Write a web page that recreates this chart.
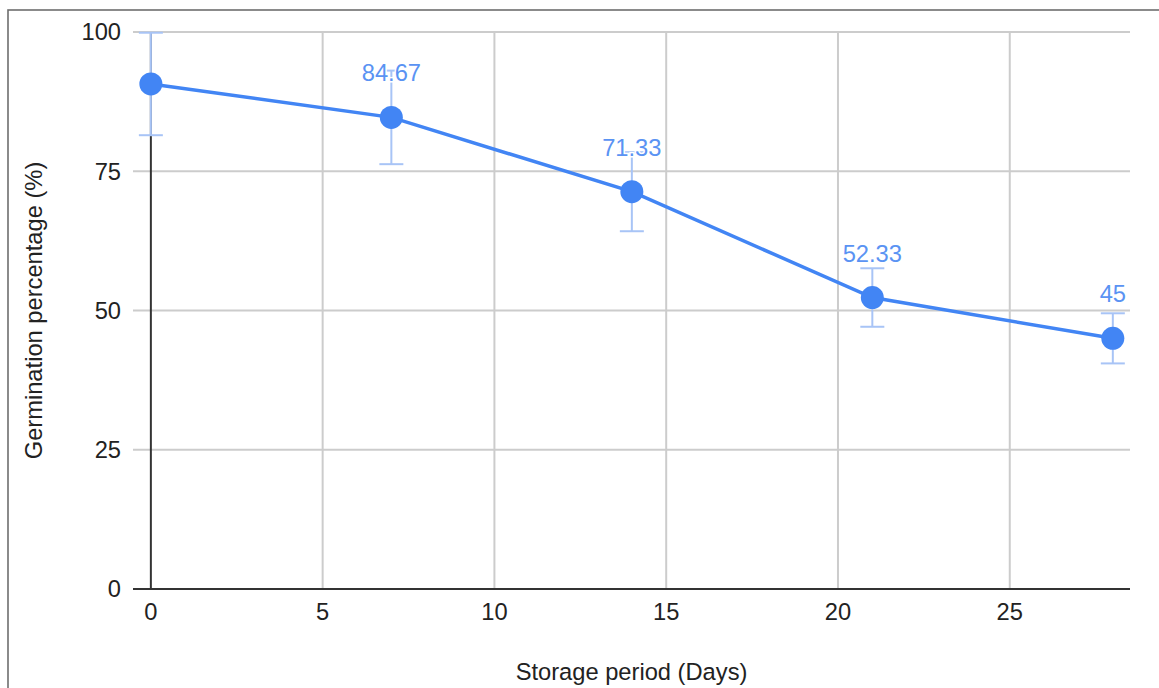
<!DOCTYPE html>
<html>
<head>
<meta charset="utf-8">
<script src="https://cdn.jsdelivr.net/npm/d3@7"></script>
<style>
  html, body { margin: 0; padding: 0; background: #fff; }
  text { font-family: "Liberation Sans", Arial, sans-serif; }
</style>
</head>
<body>
<div id="chart-container"></div>
<script>
"use strict";

// storage period (days) and mean germination %
var days = [0, 7, 14, 21, 28];
var germination = [90.67, 84.67, 71.33, 52.33, 45];
// error bar half-widths
var errors = [9.2, 8.4, 7.1, 5.25, 4.5];
// point labels (first one not shown on the original)
var pointLabels = [null, "84.67", "71.33", "52.33", "45"];

var xTicks = [0, 5, 10, 15, 20, 25];
var yTicks = [0, 25, 50, 75, 100];

var width = 1159,
  height = 688;

var blue = "#4285f4";
var fontSize = "23.7px";

var svg = d3
  .select("#chart-container")
  .append("svg")
  .attr("width", width)
  .attr("height", height);

// frame
svg
  .append("rect")
  .attr("x", 8)
  .attr("y", 10)
  .attr("width", 1160)
  .attr("height", 700)
  .style("fill", "none")
  .style("stroke", "#6e6e6e")
  .style("stroke-width", 1.6);

var x = d3
  .scaleLinear()
  .domain([-0.52, 28.5])
  .range([133, 1130]);

var y = d3
  .scaleLinear()
  .domain([0, 100])
  .range([589, 32]);

var data = days.map(function(d, i) {
  return { day: d, value: germination[i], err: errors[i], label: pointLabels[i] };
});

// horizontal grid
svg
  .append("g")
  .selectAll("line")
  .data(yTicks.filter(function(t) { return t !== 0; }))
  .enter()
  .append("line")
  .attr("x1", x.range()[0])
  .attr("x2", x.range()[1])
  .attr("y1", function(d) { return y(d); })
  .attr("y2", function(d) { return y(d); })
  .style("stroke", "#cccccc")
  .style("stroke-width", 2);

// vertical grid
svg
  .append("g")
  .selectAll("line")
  .data(xTicks.filter(function(t) { return t !== 0; }))
  .enter()
  .append("line")
  .attr("x1", function(d) { return x(d); })
  .attr("x2", function(d) { return x(d); })
  .attr("y1", y.range()[0])
  .attr("y2", y.range()[1])
  .style("stroke", "#cccccc")
  .style("stroke-width", 2);

// zero lines
svg
  .append("line")
  .attr("x1", x(0))
  .attr("x2", x(0))
  .attr("y1", y(0))
  .attr("y2", y(100))
  .style("stroke", "#333333")
  .style("stroke-width", 2);

svg
  .append("line")
  .attr("x1", x.range()[0])
  .attr("x2", x.range()[1])
  .attr("y1", y(0))
  .attr("y2", y(0))
  .style("stroke", "#333333")
  .style("stroke-width", 2);

// tick labels
svg
  .append("g")
  .selectAll("text")
  .data(yTicks)
  .enter()
  .append("text")
  .attr("x", 121)
  .attr("y", function(d) { return y(d); })
  .attr("dy", "0.35em")
  .style("text-anchor", "end")
  .style("font-size", fontSize)
  .style("fill", "#222")
  .text(function(d) { return d; });

svg
  .append("g")
  .selectAll("text")
  .data(xTicks)
  .enter()
  .append("text")
  .attr("x", function(d) { return x(d); })
  .attr("y", 620)
  .style("text-anchor", "middle")
  .style("font-size", fontSize)
  .style("fill", "#222")
  .text(function(d) { return d; });

// axis titles
svg
  .append("text")
  .attr("x", (x.range()[0] + x.range()[1]) / 2)
  .attr("y", 680)
  .style("text-anchor", "middle")
  .style("font-size", fontSize)
  .style("fill", "#222")
  .text("Storage period (Days)");

svg
  .append("text")
  .attr("transform", "translate(42," + (y(0) + y(100)) / 2 + ") rotate(-90)")
  .style("text-anchor", "middle")
  .style("font-size", fontSize)
  .style("fill", "#222")
  .text("Germination percentage (%)");

// error bars
var errColor = "#a8c4f6";
var bars = svg
  .append("g")
  .selectAll("g")
  .data(data)
  .enter()
  .append("g");

bars
  .append("line")
  .attr("x1", function(d) { return x(d.day); })
  .attr("x2", function(d) { return x(d.day); })
  .attr("y1", function(d) { return y(d.value + d.err); })
  .attr("y2", function(d) { return y(d.value - d.err); })
  .style("stroke", errColor)
  .style("stroke-width", 2);

bars
  .selectAll("line.cap")
  .data(function(d) { return [d.value + d.err, d.value - d.err].map(function(v) { return { day: d.day, v: v }; }); })
  .enter()
  .append("line")
  .attr("class", "cap")
  .attr("x1", function(d) { return x(d.day) - 12; })
  .attr("x2", function(d) { return x(d.day) + 12; })
  .attr("y1", function(d) { return y(d.v); })
  .attr("y2", function(d) { return y(d.v); })
  .style("stroke", errColor)
  .style("stroke-width", 2);

// line
var line = d3
  .line()
  .x(function(d) { return x(d.day); })
  .y(function(d) { return y(d.value); });

svg
  .append("path")
  .datum(data)
  .attr("d", line)
  .style("fill", "none")
  .style("stroke", blue)
  .style("stroke-width", 3.5);

// points
svg
  .append("g")
  .selectAll("circle")
  .data(data)
  .enter()
  .append("circle")
  .attr("cx", function(d) { return x(d.day); })
  .attr("cy", function(d) { return y(d.value); })
  .attr("r", 11.5)
  .style("fill", blue);

// point labels, white halo hides the bars behind
svg
  .append("g")
  .selectAll("text")
  .data(data.filter(function(d) { return d.label; }))
  .enter()
  .append("text")
  .attr("x", function(d) { return x(d.day); })
  .attr("y", function(d) { return y(d.value) - 36; })
  .style("text-anchor", "middle")
  .style("font-size", fontSize)
  .style("fill", "#5a93f3")
  .style("stroke", "#fff")
  .style("stroke-width", 3)
  .style("paint-order", "stroke")
  .text(function(d) { return d.label; });
</script>
</body>
</html>
